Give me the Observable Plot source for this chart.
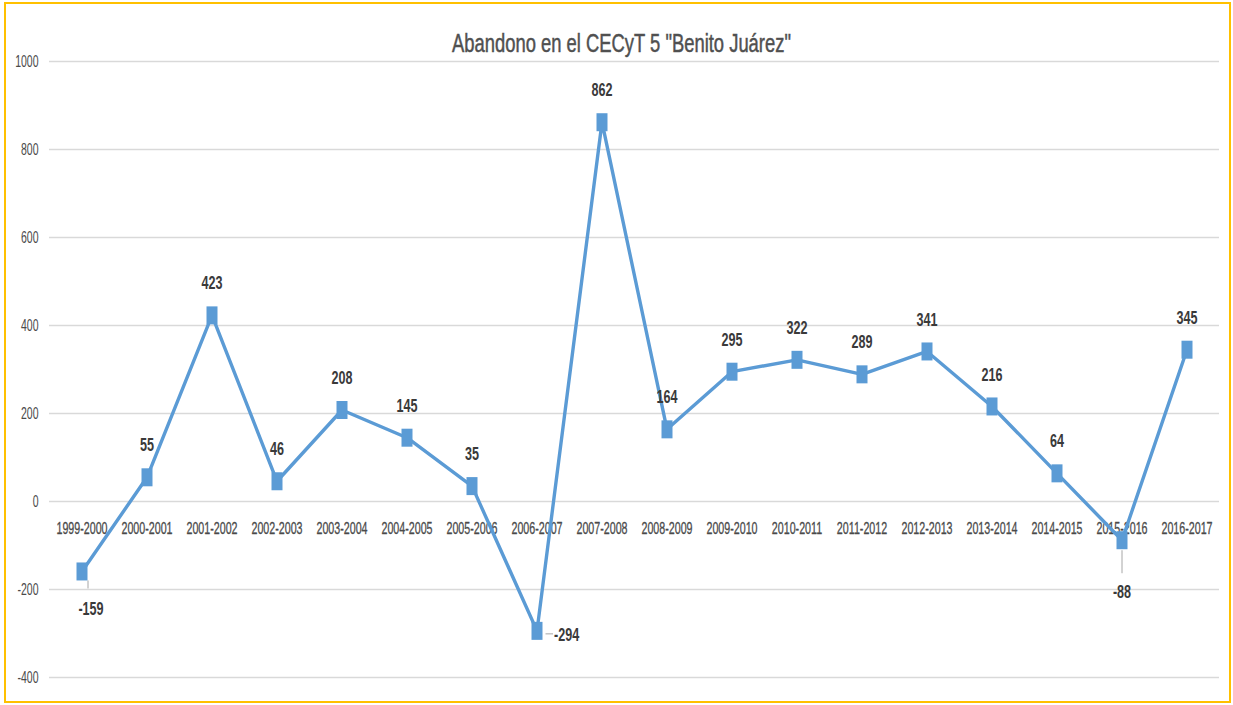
<!DOCTYPE html>
<html>
<head>
<meta charset="utf-8">
<script src="https://cdn.jsdelivr.net/npm/d3@7"></script>
<script src="https://cdn.jsdelivr.net/npm/@observablehq/plot@0.6"></script>
<style>
  html, body { margin: 0; padding: 0; background: #fff; }
  #wrap { position: relative; width: 1233px; height: 705px; overflow: hidden; }
  #frame { position: absolute; left: 4px; top: 2px; width: 1227px; height: 701px; box-sizing: border-box; border: 2px solid #FFC000; pointer-events: none; }
  #title { position: absolute; left: 5px; width: 1233px; top: 35px; height: 18.4px; text-align: center;
    font-family: "Liberation Sans", Arial, sans-serif;
    font-size: 18.4px; color: #505050; line-height: 1; white-space: nowrap;
    -webkit-text-stroke: 0.35px #505050;
    transform: scaleY(1.36); transform-origin: 50% 50%; }
  #chart { position: absolute; left: 0; top: 0; }
</style>
</head>
<body>
<div id="wrap">
  <div id="chart"></div>
  <div id="title">Abandono en el CECyT 5 "Benito Juárez"</div>
  <div id="frame"></div>
</div>
<script>
const periods = ["1999-2000","2000-2001","2001-2002","2002-2003","2003-2004","2004-2005","2005-2006","2006-2007","2007-2008","2008-2009","2009-2010","2010-2011","2011-2012","2012-2013","2013-2014","2014-2015","2015-2016","2016-2017"];
const abandono = [-159, 55, 423, 46, 208, 145, 35, -294, 862, 164, 295, 322, 289, 341, 216, 64, -88, 345];
const yTicks = [-400, -200, 0, 200, 400, 600, 800, 1000];

const data = periods.map((p, i) => ({periodo: p, valor: abandono[i]}));

const W = 1233, H = 705;
const mTop = 61, mBottom = 28, mLeft = 49, mRight = 14;
const pxPerUnit = (H - mTop - mBottom) / 1400;
const px = v => v / pxPerUnit; // pixels -> data units

// Excel-like placement of the data labels (pixel offsets)
function labelOffset(d) {
  if (d.valor === -159) return {dx: 9, dy: 37, anchor: "middle"};
  if (d.valor === -294) return {dx: 17, dy: 4, anchor: "start"};
  if (d.valor === -88) return {dx: 0, dy: 52, anchor: "middle"};
  return {dx: 0, dy: -32, anchor: "middle"};
}
const labeled = data.map(d => ({...d, ...labelOffset(d)}));
const above = labeled.filter(d => d.dy < 0);
const specials = labeled.filter(d => d.dy >= 0);

const font = `"Liberation Sans", Arial, sans-serif`;
const blue = "#5B9BD5";
const leaderColor = "#a6a6a6";
const axisText = "#4a4a4a";

// tall rectangular marker (the original picture is vertically stretched)
const tallSquare = {
  draw(context) {
    const w = 11, h = 18;
    context.moveTo(-w / 2, -h / 2);
    context.lineTo(w / 2, -h / 2);
    context.lineTo(w / 2, h / 2);
    context.lineTo(-w / 2, h / 2);
    context.closePath();
  }
};

const vLeaders = specials.filter(d => d.valor !== -294).map(d => ({
  periodo: d.periodo,
  y1: d.valor - px(d.valor === -88 ? 10 : 9),
  y2: d.valor - px(d.valor === -88 ? 33 : 17),
  dx: d.valor === -88 ? 0 : 6
}));

const marks = [
  Plot.gridY(yTicks, {stroke: "#d9d9d9", strokeOpacity: 1, strokeWidth: 1.6}),
  Plot.axisY(yTicks, {tickSize: 0, tickPadding: 11, fontSize: 10.5, fill: axisText, stroke: axisText, strokeWidth: 0.2, tickFormat: d => String(d), label: null}),
  Plot.text(periods, {x: d => d, y: () => 0, dy: 27, fontSize: 10.7, fill: axisText, stroke: axisText, strokeWidth: 0.2}),
  ...vLeaders.map(l => Plot.link([l], {x1: "periodo", x2: "periodo", y1: "y1", y2: "y2", dx: l.dx, stroke: leaderColor, strokeWidth: 1})),
  Plot.tickY(specials.filter(d => d.valor === -294), {x: "periodo", y: "valor", dy: 3, insetLeft: 41.5, insetRight: 16, stroke: leaderColor, strokeWidth: 1}),
  Plot.line(data, {x: "periodo", y: "valor", stroke: blue, strokeWidth: 3.4}),
  Plot.dot(data, {x: "periodo", y: "valor", symbol: tallSquare, r: 7, fill: blue, stroke: "none"}),
  Plot.text(above, {x: "periodo", y: "valor", text: d => String(d.valor), dy: -32, fontSize: 12.6, fontWeight: "bold", fill: "#3a3a3a"}),
  ...specials.map(d => Plot.text([d], {x: "periodo", y: "valor", text: v => String(v.valor), dx: d.dx, dy: d.dy, textAnchor: d.anchor, fontSize: 12.6, fontWeight: "bold", fill: "#3a3a3a"}))
];

const chart = Plot.plot({
  width: W,
  height: H,
  marginTop: mTop,
  marginBottom: mBottom,
  marginLeft: mLeft,
  marginRight: mRight,
  style: {fontFamily: font, background: "transparent"},
  x: {type: "band", domain: periods, axis: null, padding: 0},
  y: {domain: [-400, 1000], axis: null},
  marks
});

// stretch all texts vertically, like the source image
chart.querySelectorAll("text").forEach(t => {
  const tr = t.getAttribute("transform") || "";
  t.setAttribute("transform", (tr + " scale(1,1.5)").trim());
});

document.getElementById("chart").appendChild(chart);
</script>
</body>
</html>
